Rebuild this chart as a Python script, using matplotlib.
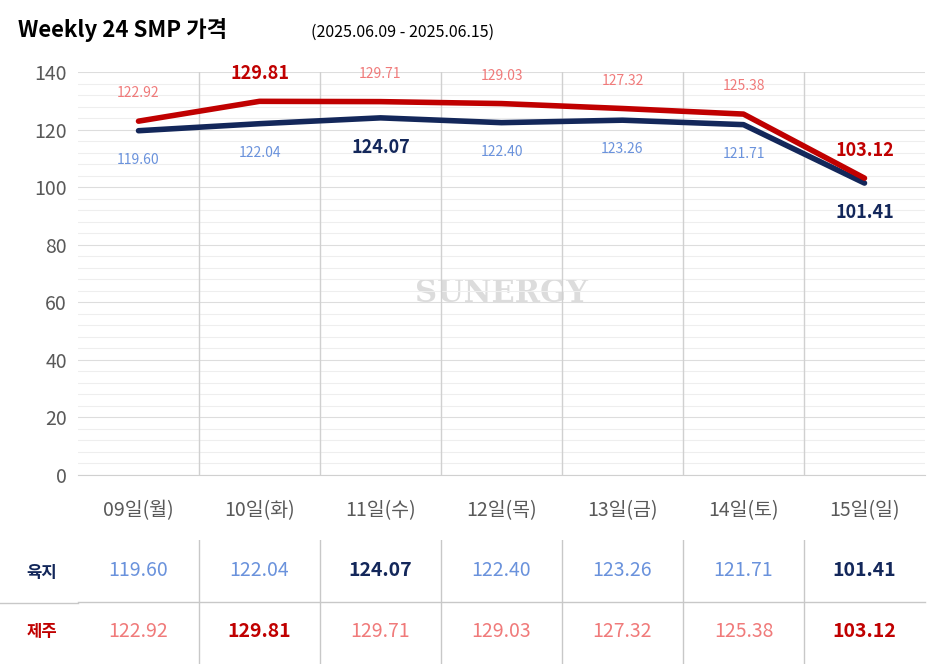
import matplotlib.pyplot as plt
from matplotlib.ticker import MultipleLocator

plt.rcParams["font.family"] = ["Noto Sans CJK KR", "Noto Sans CJK JP", "Noto Sans CJK SC",
                               "Noto Sans CJK TC", "DejaVu Sans"]

days = ["09일(월)", "10일(화)", "11일(수)", "12일(목)", "13일(금)", "14일(토)", "15일(일)"]
mainland = [119.60, 122.04, 124.07, 122.40, 123.26, 121.71, 101.41]
jeju = [122.92, 129.81, 129.71, 129.03, 127.32, 125.38, 103.12]

NAVY = "#13275a"
RED = "#c00000"
LBLUE = "#6a92dc"
LRED = "#f07a7a"

fig = plt.figure(figsize=(9.48, 6.64), dpi=100)
W, H = 948, 664
ax = fig.add_axes([78 / W, (H - 475) / H, 847 / W, 403 / H])
x = range(len(days))

ax.set_xlim(-0.5, 6.5)
ax.set_ylim(0, 140)
ax.yaxis.set_major_locator(MultipleLocator(20))
ax.yaxis.set_minor_locator(MultipleLocator(4))
ax.grid(which="minor", axis="y", color="#eeeeee", lw=0.8)
ax.grid(which="major", axis="y", color="#dddddd", lw=0.8)
for b in range(1, 7):
    ax.axvline(b - 0.5, color="#d0d0d0", lw=1)
ax.set_axisbelow(True)
for s in ax.spines.values():
    s.set_visible(False)
ax.spines["bottom"].set_visible(True)
ax.spines["bottom"].set_color("#d0d0d0")
ax.tick_params(which="both", length=0, labelsize=14, colors="#595959", pad=8)
ax.tick_params(axis="x", pad=18)
ax.set_xticks(list(x))
ax.set_xticklabels(days)

ax.text(3, 63, "SUNERGY", ha="center", va="center", fontsize=22, fontweight="bold",
        family="DejaVu Serif", color="#dcdcdc", zorder=0)

ax.plot(x, mainland, color=NAVY, lw=4, solid_capstyle="round", zorder=3)
ax.plot(x, jeju, color=RED, lw=4, solid_capstyle="round", zorder=4)

bm = mainland.index(max(mainland)), mainland.index(min(mainland))
bj = jeju.index(max(jeju)), jeju.index(min(jeju))
for i in x:
    b = i in bj
    ax.annotate(f"{jeju[i]:.2f}", (i, jeju[i]), xytext=(0, 20), textcoords="offset points",
                ha="center", va="center", fontsize=13 if b else 10,
                fontweight="bold" if b else "normal", color=RED if b else LRED)
    b = i in bm
    ax.annotate(f"{mainland[i]:.2f}", (i, mainland[i]), xytext=(0, -21), textcoords="offset points",
                ha="center", va="center", fontsize=13 if b else 10,
                fontweight="bold" if b else "normal", color=NAVY if b else LBLUE)

fig.text(18 / W, 1 - 30 / H, "Weekly 24 SMP 가격", fontsize=16, fontweight="bold", va="center")
fig.text(311 / W, 1 - 32 / H, "(2025.06.09 - 2025.06.15)", fontsize=11.5, va="center")

# table
tax = fig.add_axes([78 / W, 0, 847 / W, (H - 540) / H])
tax.set_xlim(-0.5, 6.5)
tax.set_ylim(0, 2)
tax.axis("off")
for b in range(1, 7):
    tax.axvline(b - 0.5, color="#c8c8c8", lw=1)
tax.plot([-0.5, 6.5], [1.0, 1.0], color="#c8c8c8", lw=1, clip_on=False)
fig.add_artist(plt.Line2D([0, 78 / W], [(H - 603) / H] * 2, color="#c8c8c8", lw=1))
for i in x:
    b = i in bm
    tax.text(i, 1.5, f"{mainland[i]:.2f}", ha="center", va="center", fontsize=14,
             fontweight="bold" if b else "normal", color=NAVY if b else LBLUE)
    b = i in bj
    tax.text(i, 0.52, f"{jeju[i]:.2f}", ha="center", va="center", fontsize=14,
             fontweight="bold" if b else "normal", color=RED if b else LRED)
fig.text(42 / W, 1 - 573 / H, "육지", ha="center", va="center", fontsize=12, fontweight="bold", color=NAVY)
fig.text(42 / W, 1 - 632 / H, "제주", ha="center", va="center", fontsize=12, fontweight="bold", color=RED)

fig.savefig("out.png", dpi=100)
